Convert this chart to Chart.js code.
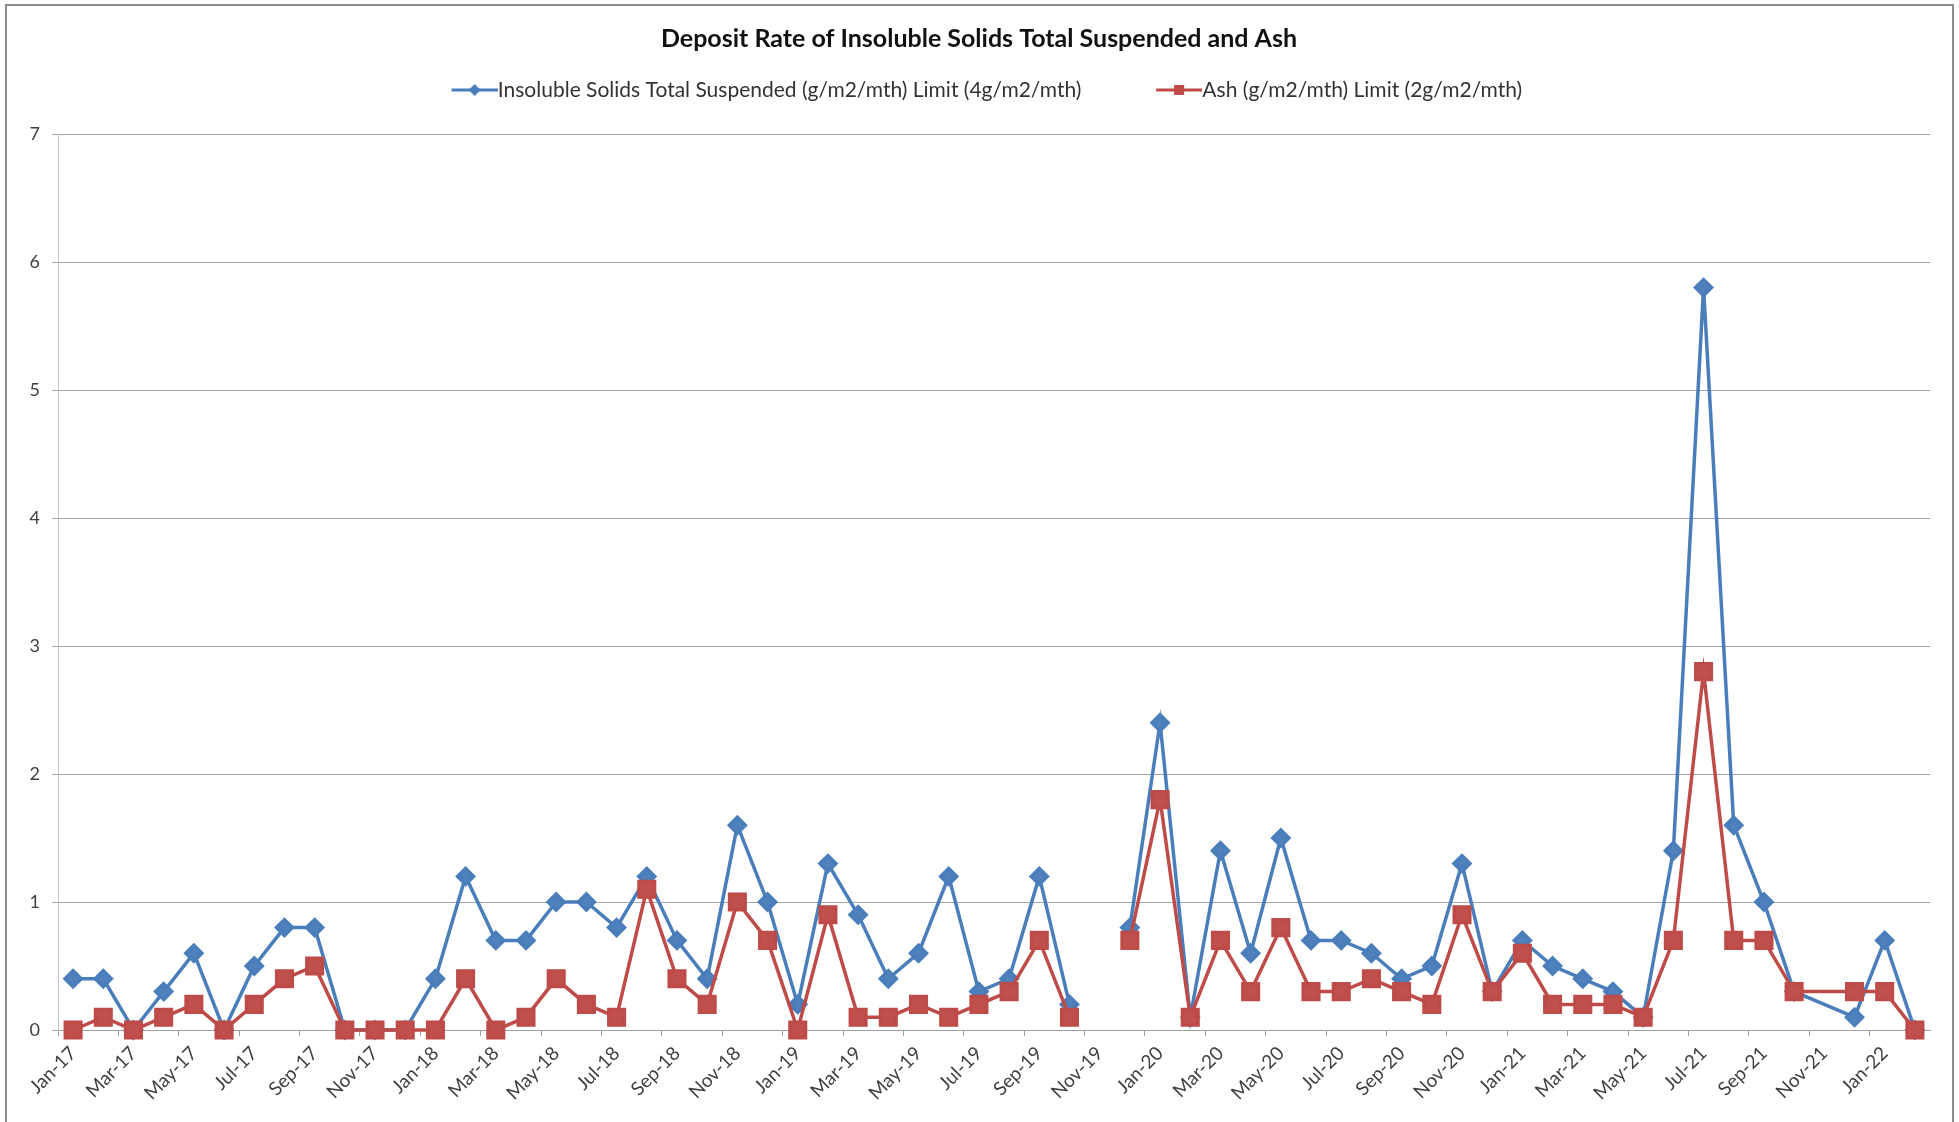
<!DOCTYPE html>
<html>
<head>
<meta charset="utf-8">
<title>Deposit Rate of Insoluble Solids Total Suspended and Ash</title>
<script src="https://cdn.jsdelivr.net/npm/chart.js@4.4.1/dist/chart.umd.min.js"></script>
<style>
  html, body { margin: 0; padding: 0; background: #fff; overflow: hidden; }
  #wrap { position: relative; width: 1959px; height: 1122px; }
  #frame { position: absolute; left: 5px; top: 4px; width: 1945px; height: 1300px; border: 2px solid #8c8c8c; pointer-events: none; }
  canvas { display: block; }
</style>
</head>
<body>
<div id="wrap">
  <canvas id="depositChart" width="1959" height="1122"></canvas>
  <div id="frame"></div>
</div>
<script>
// all months on the axis
const months = [
    'Jan-17', 'Feb-17', 'Mar-17', 'Apr-17', 'May-17', 'Jun-17', 'Jul-17', 'Aug-17', 'Sep-17', 'Oct-17', 'Nov-17', 'Dec-17',
    'Jan-18', 'Feb-18', 'Mar-18', 'Apr-18', 'May-18', 'Jun-18', 'Jul-18', 'Aug-18', 'Sep-18', 'Oct-18', 'Nov-18', 'Dec-18',
    'Jan-19', 'Feb-19', 'Mar-19', 'Apr-19', 'May-19', 'Jun-19', 'Jul-19', 'Aug-19', 'Sep-19', 'Oct-19', 'Nov-19', 'Dec-19',
    'Jan-20', 'Feb-20', 'Mar-20', 'Apr-20', 'May-20', 'Jun-20', 'Jul-20', 'Aug-20', 'Sep-20', 'Oct-20', 'Nov-20', 'Dec-20',
    'Jan-21', 'Feb-21', 'Mar-21', 'Apr-21', 'May-21', 'Jun-21', 'Jul-21', 'Aug-21', 'Sep-21', 'Oct-21', 'Nov-21', 'Dec-21',
    'Jan-22', 'Feb-22'
]

// months that have a row in the log (Nov-19 row is blank, Nov-21 was never logged)
const sampleMonths = months.filter(m => m !== 'Nov-21')

// g/m2/mth, one value per sample month
const istsValues = [
    0.4, 0.4, 0, 0.3, 0.6, 0, 0.5, 0.8, 0.8, 0, 0, 0,
    0.4, 1.2, 0.7, 0.7, 1.0, 1.0, 0.8, 1.2, 0.7, 0.4, 1.6, 1.0,
    0.2, 1.3, 0.9, 0.4, 0.6, 1.2, 0.3, 0.4, 1.2, 0.2, null, 0.8,
    2.4, 0.1, 1.4, 0.6, 1.5, 0.7, 0.7, 0.6, 0.4, 0.5, 1.3, 0.3,
    0.7, 0.5, 0.4, 0.3, 0.1, 1.4, 5.8, 1.6, 1.0, 0.3, 0.1,
    0.7, 0
]
const ashValues = [
    0, 0.1, 0, 0.1, 0.2, 0, 0.2, 0.4, 0.5, 0, 0, 0,
    0, 0.4, 0, 0.1, 0.4, 0.2, 0.1, 1.1, 0.4, 0.2, 1.0, 0.7,
    0, 0.9, 0.1, 0.1, 0.2, 0.1, 0.2, 0.3, 0.7, 0.1, null, 0.7,
    1.8, 0.1, 0.7, 0.3, 0.8, 0.3, 0.3, 0.4, 0.3, 0.2, 0.9, 0.3,
    0.6, 0.2, 0.2, 0.2, 0.1, 0.7, 2.8, 0.7, 0.7, 0.3, 0.3,
    0.3, 0
]

const yTicks = [0, 1, 2, 3, 4, 5, 6, 7]

const BLUE = '#4a7ebb'
const RED = '#be4b48'
const FONT = 'Lato, "Liberation Sans", sans-serif'
const LEGEND_SIZE = 21
const LEGEND_BOX = 51.5
const LEGEND_PAD = 59

const toPoints = values => sampleMonths.map((m, i) => ({ x: m, y: values[i] }))

// line + marker picture used as the legend symbol; it runs up to the label text
const legendIcon = (color, shape) => {
    const c = document.createElement('canvas')
    c.width = LEGEND_BOX + LEGEND_SIZE
    c.height = 18
    const g = c.getContext('2d')
    const end = c.width
    const start = end - 46
    const mid = (start + end) / 2
    g.strokeStyle = color
    g.lineWidth = 3
    g.beginPath()
    g.moveTo(start, 9)
    g.lineTo(end, 9)
    g.stroke()
    g.fillStyle = color
    g.beginPath()
    if (shape === 'diamond') {
        g.moveTo(mid, 3); g.lineTo(mid + 6, 9); g.lineTo(mid, 15); g.lineTo(mid - 6, 9)
    } else {
        g.rect(mid - 5, 4, 10, 10)
    }
    g.fill()
    return c
}
const icons = [legendIcon(BLUE, 'diamond'), legendIcon(RED, 'square')]

const config = {
    type: 'line',
    data: {
        labels: months,
        datasets: [{
            label: 'Insoluble Solids Total Suspended (g/m2/mth) Limit (4g/m2/mth)',
            data: toPoints(istsValues),
            borderColor: BLUE,
            backgroundColor: BLUE,
            pointBackgroundColor: '#4f81bd',
            pointBorderColor: BLUE,
            pointStyle: 'rectRot',
            pointRadius: 8,
            borderWidth: 3.5,
            tension: 0,
            spanGaps: false,
            clip: false,
            order: 1
        }, {
            label: 'Ash (g/m2/mth) Limit (2g/m2/mth)',
            data: toPoints(ashValues),
            borderColor: RED,
            backgroundColor: RED,
            pointBackgroundColor: '#c0504d',
            pointBorderColor: RED,
            pointStyle: 'rect',
            pointRadius: 11,
            borderWidth: 3.5,
            tension: 0,
            spanGaps: false,
            clip: false,
            order: 0
        }]
    },
    options: {
        responsive: false,
        animation: false,
        layout: { padding: { left: 28, right: 29, top: 0, bottom: 0 } },
        plugins: {
            title: {
                display: true,
                text: 'Deposit Rate of Insoluble Solids Total Suspended and Ash',
                color: '#111',
                font: { family: FONT, size: 25, weight: 'bold' },
                // legend padding is wide, so pull it up under the title
                padding: { top: 24, bottom: 25.5 - LEGEND_PAD }
            },
            legend: {
                display: true,
                labels: {
                    usePointStyle: true,
                    pointStyleWidth: LEGEND_BOX,
                    padding: LEGEND_PAD,
                    color: '#333',
                    font: { family: FONT, size: LEGEND_SIZE },
                    sort: (a, b) => a.datasetIndex - b.datasetIndex,
                    generateLabels: chart => {
                        const items = Chart.defaults.plugins.legend.labels.generateLabels(chart)
                        items.forEach(item => { item.pointStyle = icons[item.datasetIndex] })
                        return items
                    }
                }
            },
            // empty gap between the legend and the plot
            subtitle: {
                display: true,
                text: '',
                weight: 500,
                font: { size: 10 },
                padding: { top: 0, bottom: 11.5 }
            },
            tooltip: { enabled: false }
        },
        scales: {
            x: {
                type: 'category',
                offset: true,
                grid: {
                    offset: true,
                    drawOnChartArea: false,
                    tickLength: 6,
                    color: ctx => ctx.index % 2 === 0 ? '#a0a0a0' : 'rgba(0,0,0,0)'
                },
                border: { color: '#a0a0a0' },
                ticks: {
                    autoSkip: false,
                    maxRotation: 45,
                    minRotation: 45,
                    padding: 6,
                    color: '#404040',
                    font: { family: FONT, size: 19 },
                    callback: function (value, index) {
                        return index % 2 === 0 ? this.getLabelForValue(value) : ''
                    }
                },
                afterFit: scale => { scale.height = 92 }
            },
            y: {
                min: yTicks[0],
                max: yTicks[yTicks.length - 1],
                afterBuildTicks: scale => { scale.ticks = yTicks.map(v => ({ value: v })) },
                grid: { color: '#a6a6a6', tickLength: 6 },
                border: { color: '#c4c4c4' },
                ticks: {
                    padding: 12,
                    color: '#404040',
                    font: { family: FONT, size: 18 }
                },
                afterFit: scale => { scale.width = 30 }
            }
        }
    }
}

new Chart(document.getElementById('depositChart'), config)
</script>
</body>
</html>
